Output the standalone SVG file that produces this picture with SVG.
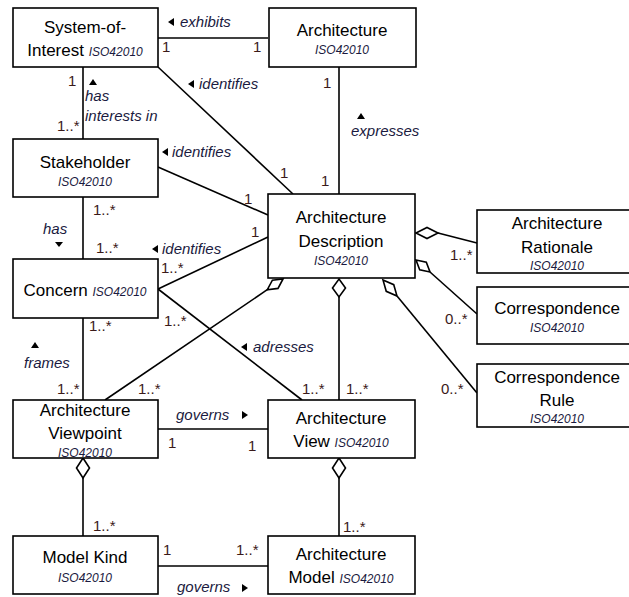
<svg xmlns="http://www.w3.org/2000/svg" width="629" height="597" viewBox="0 0 629 597">
<style>
.box{fill:#fff;stroke:#000;stroke-width:1.6}
.n{font-family:"Liberation Sans",Arial,sans-serif;font-size:17px;fill:#000;text-anchor:middle}
.iso{font-family:"Liberation Sans",Arial,sans-serif;font-size:12px;font-style:italic;fill:#1a1a40}
.lbl{font-family:"Liberation Sans",Arial,sans-serif;font-size:15px;font-style:italic;fill:#1a1a40}
.m{font-family:"Liberation Sans",Arial,sans-serif;font-size:15px;fill:#3a1a1a}
.ln{stroke:#000;stroke-width:1.6;fill:none}
.dia{fill:#fff;stroke:#000;stroke-width:1.6}
.tri{fill:#000}
</style>
<rect width="629" height="597" fill="#fff"/>
<g id="connectors">
<line class="ln" x1="156" y1="38" x2="268" y2="38"/>
<line class="ln" x1="158" y1="67" x2="293" y2="194"/>
<line class="ln" x1="339" y1="67" x2="339" y2="194"/>
<line class="ln" x1="83" y1="67" x2="83" y2="139"/>
<line class="ln" x1="158" y1="167" x2="268" y2="215"/>
<line class="ln" x1="83" y1="197" x2="83" y2="259"/>
<line class="ln" x1="158" y1="289" x2="268" y2="237"/>
<line class="ln" x1="158" y1="289" x2="302" y2="400"/>
<line class="ln" x1="83" y1="318" x2="83" y2="400"/>
<line class="ln" x1="267.3" y1="289.7" x2="105" y2="400"/>
<polygon class="dia" points="283,279 278,288.4 267.3,289.7 272.4,280.2"/>
<line class="ln" x1="339" y1="297" x2="339" y2="400"/>
<polygon class="dia" points="339,279 345.5,288 339,297 332.5,288"/>
<line class="ln" x1="438" y1="233" x2="477" y2="243"/>
<polygon class="dia" points="416,233 427,227.5 438,233 427,238.5"/>
<line class="ln" x1="430" y1="272" x2="477" y2="314"/>
<polygon class="dia" points="416,260 426.3,262.2 430,272 419.7,269.8"/>
<line class="ln" x1="397" y1="296" x2="477" y2="393"/>
<polygon class="dia" points="383,280 393.75,284.7 397,296 386.25,291.3"/>
<line class="ln" x1="156" y1="429" x2="268" y2="429"/>
<line class="ln" x1="83" y1="478" x2="83" y2="536"/>
<polygon class="dia" points="83,458 89.5,468 83,478 76.5,468"/>
<line class="ln" x1="339" y1="478" x2="339" y2="536"/>
<polygon class="dia" points="339,458 345.5,468 339,478 332.5,468"/>
<line class="ln" x1="156" y1="566" x2="268" y2="566"/>
<polygon class="tri" points="168,22 174,18 174,26"/>
<text class="lbl" x="180" y="27">exhibits</text>
<text class="m" x="162" y="52">1</text>
<text class="m" x="253" y="52">1</text>
<polygon class="tri" points="188,84 194,80 194,88"/>
<text class="lbl" x="199" y="89">identifies</text>
<text class="m" x="280" y="178">1</text>
<polygon class="tri" points="361,113 357,119 365,119"/>
<text class="lbl" x="351" y="136">expresses</text>
<text class="m" x="323" y="88">1</text>
<text class="m" x="321" y="186">1</text>
<text class="m" x="68" y="86">1</text>
<text class="m" x="57" y="131">1..*</text>
<polygon class="tri" points="93,79 89,85 97,85"/>
<text class="lbl" x="85" y="101">has</text>
<text class="lbl" x="85" y="121">interests in</text>
<polygon class="tri" points="162,152 168,148 168,156"/>
<text class="lbl" x="172" y="157">identifies</text>
<text class="m" x="244" y="204">1</text>
<text class="m" x="93" y="215">1..*</text>
<text class="lbl" x="43" y="234">has</text>
<polygon class="tri" points="59,247 55,242 63,242"/>
<text class="m" x="96" y="253">1..*</text>
<polygon class="tri" points="152,249 158,245 158,253"/>
<text class="lbl" x="162" y="254">identifies</text>
<text class="m" x="251" y="237">1</text>
<text class="m" x="161" y="273">1..*</text>
<text class="m" x="164" y="326">1..*</text>
<polygon class="tri" points="241,347 247,343 247,351"/>
<text class="lbl" x="253" y="352">adresses</text>
<text class="m" x="302" y="394">1..*</text>
<text class="m" x="89" y="331">1..*</text>
<polygon class="tri" points="35,342 31,348 39,348"/>
<text class="lbl" x="24" y="368">frames</text>
<text class="m" x="57" y="394">1..*</text>
<text class="m" x="138" y="394">1..*</text>
<text class="m" x="346" y="394">1..*</text>
<text class="m" x="450" y="260">1..*</text>
<text class="m" x="445" y="324">0..*</text>
<text class="m" x="441" y="394">0..*</text>
<text class="lbl" x="176" y="420">governs</text>
<polygon class="tri" points="248,415 242,411 242,419"/>
<text class="m" x="168" y="448">1</text>
<text class="m" x="248" y="451">1</text>
<text class="m" x="93" y="531">1..*</text>
<text class="m" x="343" y="532">1..*</text>
<text class="m" x="163" y="555">1</text>
<text class="m" x="236" y="555">1..*</text>
<text class="lbl" x="177" y="592">governs</text>
<polygon class="tri" points="248,588 242,584 242,592"/>
</g>
<g id="system-of-interest">
<rect class="box" x="13" y="8" width="145" height="59"/>
<text class="n" x="85" y="33">System-of-</text>
<text x="85" y="56" text-anchor="middle"><tspan class="n">Interest </tspan><tspan class="iso">ISO42010</tspan></text>
</g>
<g id="architecture">
<rect class="box" x="269" y="8" width="147" height="59"/>
<text class="n" x="342" y="36">Architecture</text>
<text class="iso" x="342" y="54" text-anchor="middle">ISO42010</text>
</g>
<g id="stakeholder">
<rect class="box" x="13" y="139" width="145" height="58"/>
<text class="n" x="85" y="168">Stakeholder</text>
<text class="iso" x="85" y="186" text-anchor="middle">ISO42010</text>
</g>
<g id="concern">
<rect class="box" x="13" y="259" width="145" height="59"/>
<text x="85" y="296" text-anchor="middle"><tspan class="n">Concern </tspan><tspan class="iso">ISO42010</tspan></text>
</g>
<g id="architecture-description">
<rect class="box" x="268" y="194" width="147" height="84"/>
<text class="n" x="341" y="223">Architecture</text>
<text class="n" x="341" y="247">Description</text>
<text class="iso" x="341" y="265" text-anchor="middle">ISO42010</text>
</g>
<g id="architecture-rationale">
<rect class="box" x="477" y="210" width="160" height="63"/>
<text class="n" x="557" y="229">Architecture</text>
<text class="n" x="557" y="253">Rationale</text>
<text class="iso" x="557" y="270" text-anchor="middle">ISO42010</text>
</g>
<g id="correspondence">
<rect class="box" x="477" y="287" width="160" height="57"/>
<text class="n" x="557" y="314">Correspondence</text>
<text class="iso" x="557" y="332" text-anchor="middle">ISO42010</text>
</g>
<g id="correspondence-rule">
<rect class="box" x="477" y="364" width="160" height="63"/>
<text class="n" x="557" y="383">Correspondence</text>
<text class="n" x="557" y="406">Rule</text>
<text class="iso" x="557" y="423" text-anchor="middle">ISO42010</text>
</g>
<g id="architecture-viewpoint">
<rect class="box" x="13" y="400" width="145" height="58"/>
<text class="n" x="85" y="416">Architecture</text>
<text class="n" x="85" y="439">Viewpoint</text>
<text class="iso" x="85" y="457" text-anchor="middle">ISO42010</text>
</g>
<g id="architecture-view">
<rect class="box" x="268" y="400" width="147" height="58"/>
<text class="n" x="341" y="424">Architecture</text>
<text x="341" y="447" text-anchor="middle"><tspan class="n">View </tspan><tspan class="iso">ISO42010</tspan></text>
</g>
<g id="model-kind">
<rect class="box" x="13" y="536" width="145" height="58"/>
<text class="n" x="85" y="563">Model Kind</text>
<text class="iso" x="85" y="582" text-anchor="middle">ISO42010</text>
</g>
<g id="architecture-model">
<rect class="box" x="268" y="536" width="147" height="58"/>
<text class="n" x="341" y="560">Architecture</text>
<text x="341" y="583" text-anchor="middle"><tspan class="n">Model </tspan><tspan class="iso">ISO42010</tspan></text>
</g>
</svg>
